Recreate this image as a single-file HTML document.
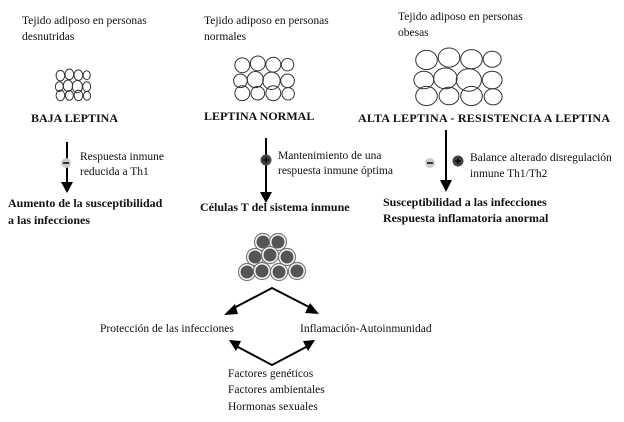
<!DOCTYPE html>
<html><head><meta charset="utf-8"><style>
html,body{margin:0;padding:0;background:#fff;}
svg{display:block;}
text{font-family:"Liberation Serif",serif;fill:#111;}
.s{font-size:11.5px;}
.b{font-size:12px;font-weight:bold;}
</style></head><body>
<svg width="624" height="422" viewBox="0 0 624 422" xmlns="http://www.w3.org/2000/svg">
<defs>
<g id="tis" fill="none" stroke="#333">
<circle cx="15" cy="15" r="12" vector-effect="non-scaling-stroke"/>
<circle cx="40" cy="12" r="12" vector-effect="non-scaling-stroke"/>
<circle cx="65" cy="14" r="12" vector-effect="non-scaling-stroke"/>
<circle cx="88" cy="14" r="10" vector-effect="non-scaling-stroke"/>
<circle cx="12" cy="40" r="11" vector-effect="non-scaling-stroke"/>
<circle cx="36" cy="38" r="13" vector-effect="non-scaling-stroke"/>
<circle cx="62" cy="40" r="14" vector-effect="non-scaling-stroke"/>
<circle cx="88" cy="40" r="11" vector-effect="non-scaling-stroke"/>
<circle cx="15" cy="60" r="12" vector-effect="non-scaling-stroke"/>
<circle cx="40" cy="60" r="11" vector-effect="non-scaling-stroke"/>
<circle cx="65" cy="60" r="12" vector-effect="non-scaling-stroke"/>
<circle cx="89" cy="61" r="10" vector-effect="non-scaling-stroke"/>
</g>
<g id="cell"><circle r="8.5" fill="#fff" stroke="#777" stroke-width="1.2"/><circle r="6.5" fill="#555"/></g>
</defs>

<text class="s" x="22" y="24">Tejido adiposo en personas</text>
<text class="s" x="22" y="40">desnutridas</text>
<text class="s" x="204" y="24">Tejido adiposo en personas</text>
<text class="s" x="204" y="40">normales</text>
<text class="s" x="398" y="20">Tejido adiposo en personas</text>
<text class="s" x="398" y="36">obesas</text>

<use href="#tis" transform="translate(55,69) scale(0.36,0.44)"/>
<use href="#tis" transform="translate(233,56) scale(0.62,0.62)"/>
<use href="#tis" transform="translate(413,48) scale(0.9,0.8)"/>

<text class="b" x="31" y="122">BAJA LEPTINA</text>
<text class="b" x="204" y="120">LEPTINA NORMAL</text>
<text class="b" x="358" y="122" textLength="252">ALTA LEPTINA - RESISTENCIA A LEPTINA</text>

<!-- left arrow -->
<line x1="67" y1="142" x2="67" y2="184" stroke="#000" stroke-width="2"/>
<polygon points="61,182 73,182 67,193" fill="#000"/>
<circle cx="66" cy="163" r="5" fill="#ccc"/><line x1="63" y1="163" x2="69" y2="163" stroke="#000" stroke-width="1.5"/>
<text class="s" x="80" y="160">Respuesta inmune</text>
<text class="s" x="80" y="175">reducida a Th1</text>
<text class="b" x="8" y="207">Aumento de la susceptibilidad</text>
<text class="b" x="8" y="224">a las infecciones</text>

<!-- middle arrow -->
<line x1="266" y1="138" x2="266" y2="194" stroke="#000" stroke-width="2"/>
<polygon points="260,192 272,192 266,203" fill="#000"/>
<circle cx="266" cy="160" r="5.5" fill="#444"/><line x1="263" y1="160" x2="269" y2="160" stroke="#000" stroke-width="1.3"/><line x1="266" y1="157" x2="266" y2="163" stroke="#000" stroke-width="1.3"/>
<text class="s" x="278" y="159">Mantenimiento de una</text>
<text class="s" x="278" y="174">respuesta inmune óptima</text>
<text class="b" x="200" y="211">Células T del sistema inmune</text>

<!-- right arrow -->
<line x1="446" y1="130" x2="446" y2="182" stroke="#000" stroke-width="2"/>
<polygon points="440,180 452,180 446,192" fill="#000"/>
<circle cx="430" cy="163" r="5" fill="#ccc"/><line x1="427" y1="163" x2="433" y2="163" stroke="#000" stroke-width="1.5"/>
<circle cx="458" cy="161" r="5.5" fill="#444"/><line x1="455" y1="161" x2="461" y2="161" stroke="#000" stroke-width="1.3"/><line x1="458" y1="158" x2="458" y2="164" stroke="#000" stroke-width="1.3"/>
<text class="s" x="470" y="161">Balance alterado disregulación</text>
<text class="s" x="470" y="177">inmune Th1/Th2</text>
<text class="b" x="383" y="206">Susceptibilidad a las infecciones</text>
<text class="b" x="383" y="222">Respuesta inflamatoria anormal</text>

<!-- cells -->
<use href="#cell" x="263" y="242"/><use href="#cell" x="278" y="242"/>
<use href="#cell" x="255" y="257"/><use href="#cell" x="270" y="255"/><use href="#cell" x="287" y="257"/>
<use href="#cell" x="247" y="272"/><use href="#cell" x="262" y="271"/><use href="#cell" x="279" y="272"/><use href="#cell" x="297" y="271"/>

<!-- diamond -->
<g stroke="#000" stroke-width="2" fill="none">
<polyline points="232,309 272,288 311,308"/>
<polyline points="236,346 272,365 308,346"/>
</g>
<polygon points="224,315 235,304 238,314" fill="#000"/>
<polygon points="319,314 305,313 310,303" fill="#000"/>
<polygon points="229,340 241,341 236,351" fill="#000"/>
<polygon points="315,340 308,351 303,341" fill="#000"/>

<text class="s" x="100" y="332">Protección de las infecciones</text>
<text class="s" x="300" y="332">Inflamación-Autoinmunidad</text>
<text class="s" x="228" y="377">Factores genéticos</text>
<text class="s" x="228" y="393">Factores ambientales</text>
<text class="s" x="228" y="410">Hormonas sexuales</text>
</svg>
</body></html>
